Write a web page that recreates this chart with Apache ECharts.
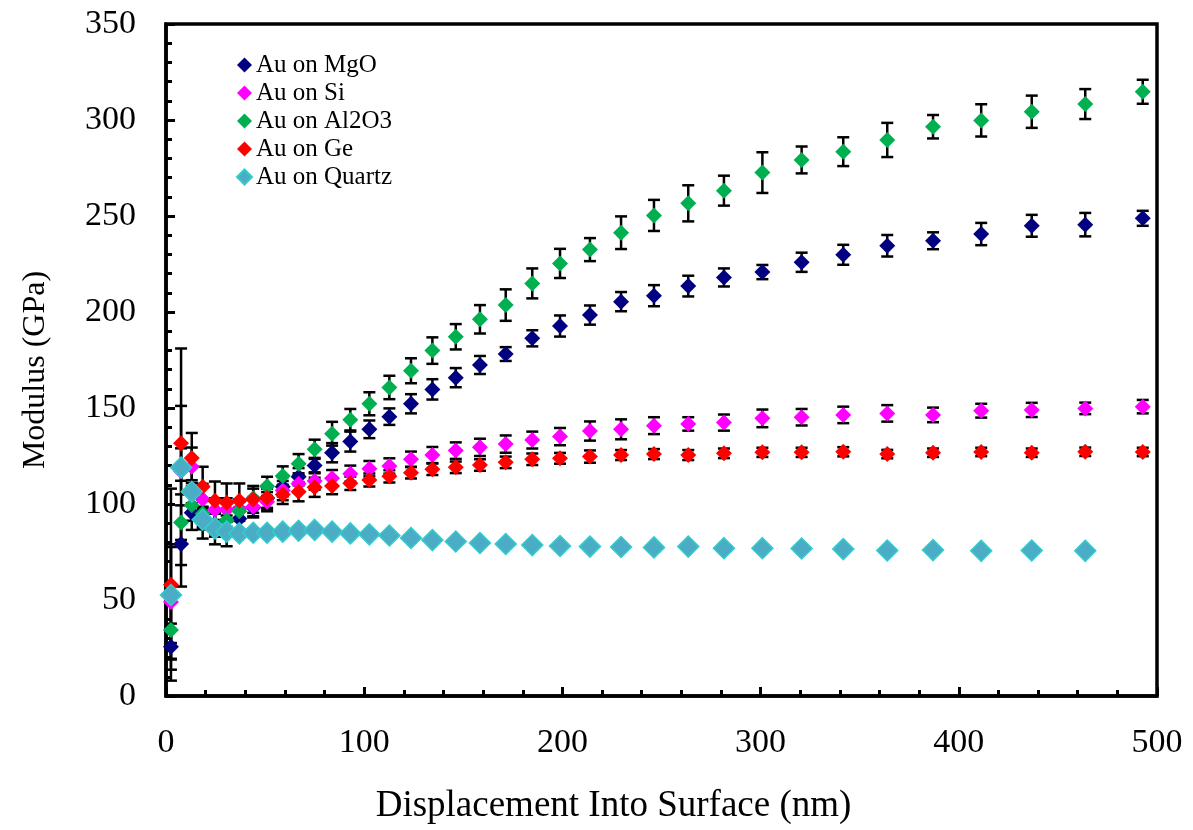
<!DOCTYPE html>
<html>
<head>
<meta charset="utf-8">
<script src="https://cdn.jsdelivr.net/npm/echarts@6/dist/echarts.min.js"></script>
<style>
  html, body { margin: 0; padding: 0; background: #fff; }
  #chart { width: 1193px; height: 830px; }
</style>
</head>
<body>
<div id="chart"></div>
<script>
// Displacement into surface (nm) at each measurement step
const depth = [2.5, 7.6, 13, 18.5, 24.7, 30.6, 37, 44, 51, 58.9, 66.9, 75, 83.8, 93, 102.6, 112.7,
  123.6, 134.4, 146.2, 158.4, 171.4, 184.8, 198.8, 213.9, 229.6, 246.2, 263.5, 281.5, 300.9,
  320.7, 341.7, 363.9, 387, 411.3, 436.8, 463.8, 492.8];

// Modulus (GPa) per film/substrate
const mgo = [25.7, 79.2, 95.5, 90, 87, 86, 92.3, 98, 103, 109, 114.2, 120, 126.7, 132.5, 138.9, 145.5,
  152.2, 159.7, 165.8, 172.4, 178.1, 186.3, 192.7, 198.4, 205.4, 208.5, 213.5, 218, 220.8,
  225.9, 229.8, 234.5, 237.1, 240.6, 244.9, 245.5, 248.8];
const si = [49, 117, 119.4, 102.5, 97, 97, 97.5, 98.6, 101.2, 107, 110.5, 112, 113.4, 115.8, 118.4, 119.8,
  123.3, 125.5, 127.8, 129.5, 131.2, 133.3, 135.1, 138, 138.9, 140.8, 141.7, 142.4, 144.6,
  145.2, 146.4, 147.2, 146.4, 148.6, 149, 149.8, 150.7];
const al2o3 = [34.4, 90.3, 99.3, 95, 89, 91.5, 96.2, 103, 109.2, 114.6, 121, 128.5, 136.6, 143.9, 152.2, 160.7,
  169.4, 179.9, 187.1, 196.2, 203.6, 214.9, 225.3, 232.5, 241.3, 250.3, 256.6, 263.2, 272.6,
  279.2, 283.5, 289.6, 296.5, 299.8, 304.3, 308.3, 314.7];
const ge = [58, 131.6, 124, 109, 101.7, 100.7, 101.7, 102.4, 103.2, 105, 106.4, 108.7, 109.4, 110.8, 112.5, 114.4,
  116.3, 118.1, 119.1, 120.3, 121.7, 123.3, 123.8, 124.7, 125.5, 126, 125.5, 126.4, 126.9,
  126.9, 127.2, 126, 126.7, 127.1, 126.7, 127.2, 127.1];
const quartz = [52.6, 119, 106.4, 91.8, 87.3, 85.6, 84.7, 85, 85, 85.6, 86.1, 86.5, 85.6, 84.7, 84.2, 83.6,
  82.3, 81.2, 80.5, 79.7, 79.2, 78.6, 78.1, 77.8, 77.6, 77.4, 77.8, 77, 77,
  76.8, 76.5, 75.8, 76, 75.6, 75.8, 75.6];

// Standard deviation (GPa) for each point
const mgoErr = [12, 11, 9, 8, 8, 8, 6, 5, 5, 5, 4.5, 4, 5, 5.2, 4.6, 4.3, 5, 5.3, 5, 4.7, 3.6, 4.2, 5.5, 5,
  5, 5.5, 5.4, 4.7, 3.7, 5, 5.2, 5.6, 4.4, 5.8, 5.7, 6.1, 3.9];
const siErr = [30, 12, 10, 8, 6, 6, 5, 5, 5, 5, 4.5, 4.5, 4.3, 4.2, 4, 4, 4, 4.2, 4.3, 4.5, 4.5, 4.4, 4.5, 5,
  5.2, 4.4, 3.5, 4.2, 4.6, 4.3, 4.3, 4.3, 3.8, 3.6, 3.7, 3, 3.5];
const al2o3Err = [15, 9, 8, 7, 6, 6, 5, 5, 5, 5, 5, 5, 6.2, 5.6, 6, 6.1, 6.5, 6.9, 6.6, 7.4, 8.2, 7.8, 7.6, 6,
  8.5, 8.1, 9.4, 7.8, 10.6, 7, 7.5, 8.9, 6.1, 8.4, 8.4, 7.8, 6.25];
const geErr = [50, 19.5, 13, 10.4, 10, 10, 9, 7, 6, 5, 5, 5, 4.3, 3.5, 3.4, 3.2, 3, 3, 3, 3, 3, 3, 2.8, 3.2,
  2.6, 2.6, 2.6, 2.5, 2.4, 2.4, 2.4, 2.2, 2.2, 2.2, 2.2, 2.2, 2.2];
const quartzErr = [25, 62, 6, 5, 3, 2.5, 2, 2, 2, 2, 1.5, 1.5, 1.5, 1.5, 1.5, 1.5, 1.5, 1.5, 1.5, 1, 1, 1, 1, 1,
  1, 1, 1, 1, 1, 1, 1, 1, 1, 1, 1, 1];

const seriesNames = ['Au on MgO', 'Au on Si', 'Au on Al2O3', 'Au on Ge', 'Au on Quartz'];

const FONT = '"Liberation Serif", "Times New Roman", serif';

const pairs = (ys) => ys.map((v, i) => [depth[i], v]);
const bars = (ys, es) => ys.map((v, i) => [depth[i], v - es[i], v + es[i]]);

function errorBarSeries(ys, es) {
  return {
    type: 'custom',
    silent: true,
    z: 1,
    data: bars(ys, es),
    encode: { x: 0, y: [1, 2] },
    renderItem: function (params, api) {
      const x = api.value(0);
      const lo = api.coord([x, api.value(1)]);
      const hi = api.coord([x, api.value(2)]);
      const half = 6;
      const style = { stroke: '#000', lineWidth: 2.5 };
      return {
        type: 'group',
        children: [
          { type: 'line', shape: { x1: hi[0], y1: hi[1], x2: lo[0], y2: lo[1] }, style: style },
          { type: 'line', shape: { x1: hi[0] - half, y1: hi[1], x2: hi[0] + half, y2: hi[1] }, style: style },
          { type: 'line', shape: { x1: lo[0] - half, y1: lo[1], x2: lo[0] + half, y2: lo[1] }, style: style }
        ]
      };
    }
  };
}

function pointSeries(name, ys, color, size, border) {
  return {
    name: name,
    type: 'scatter',
    z: 3,
    symbol: 'diamond',
    symbolSize: size,
    data: pairs(ys),
    itemStyle: border
      ? { color: color, borderColor: border, borderWidth: 1.5, opacity: 1 }
      : { color: color, opacity: 1 }
  };
}

const chart = echarts.init(document.getElementById('chart'));

chart.setOption({
  animation: false,
  backgroundColor: '#fff',
  grid: {
    left: 166, right: 36, top: 24, bottom: 134,
    show: true, borderColor: '#000', borderWidth: 3.5, backgroundColor: 'transparent'
  },
  legend: {
    orient: 'vertical',
    left: 231, top: 46,
    itemGap: 0,
    itemWidth: 15, itemHeight: 15,
    icon: 'diamond',
    data: seriesNames,
    textStyle: { fontFamily: FONT, fontSize: 25, lineHeight: 28, color: '#000', padding: [0, 0, 0, -1] }
  },
  xAxis: {
    type: 'value',
    min: 0, max: 500, interval: 100,
    name: 'Displacement Into Surface (nm)',
    nameLocation: 'middle', nameGap: 92,
    nameTextStyle: { fontFamily: FONT, fontSize: 37, color: '#000', padding: [0, 96, 0, 0] },
    axisLine: { show: true, onZero: false, lineStyle: { color: '#000', width: 3.5 } },
    axisTick: { show: true, inside: true, length: 9, lineStyle: { color: '#000', width: 3 } },
    minorTick: { show: true, splitNumber: 5, length: 6, lineStyle: { color: '#000', width: 3 } },
    axisLabel: { fontFamily: FONT, fontSize: 34, color: '#000', margin: 30 },
    splitLine: { show: false }
  },
  yAxis: {
    type: 'value',
    min: 0, max: 350, interval: 50,
    name: 'Modulus (GPa)',
    nameLocation: 'middle', nameGap: 114,
    nameTextStyle: { fontFamily: FONT, fontSize: 32, color: '#000', padding: [0, 20, 0, 0] },
    axisLine: { show: true, onZero: false, lineStyle: { color: '#000', width: 3.5 } },
    axisTick: { show: true, inside: true, length: 9, lineStyle: { color: '#000', width: 3 } },
    minorTick: { show: true, splitNumber: 5, length: 6, lineStyle: { color: '#000', width: 3 } },
    axisLabel: { fontFamily: FONT, fontSize: 34, color: '#000', margin: 30 },
    splitLine: { show: false }
  },
  series: [
    errorBarSeries(mgo, mgoErr),
    errorBarSeries(si, siErr),
    errorBarSeries(al2o3, al2o3Err),
    errorBarSeries(ge, geErr),
    errorBarSeries(quartz, quartzErr),
    pointSeries('Au on MgO', mgo, '#000080', 16),
    pointSeries('Au on Si', si, '#ff00ff', 16),
    pointSeries('Au on Al2O3', al2o3, '#00b050', 16),
    pointSeries('Au on Ge', ge, '#ff0000', 16),
    pointSeries('Au on Quartz', quartz, '#4bacc6', 21, '#33cccc')
  ]
});
</script>
</body>
</html>
